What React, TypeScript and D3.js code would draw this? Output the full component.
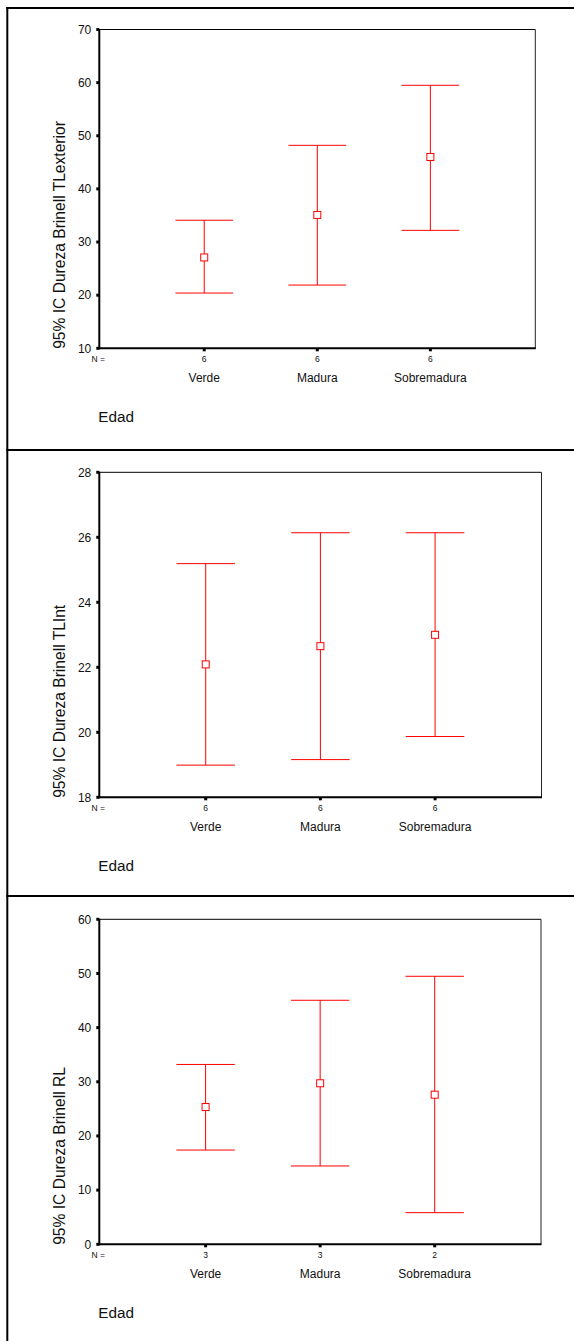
import React from "react";
import * as d3 from "d3";

const categories = ["Verde", "Madura", "Sobremadura"];

// Panel 1: TLexterior
const extMean = [27.1, 35.1, 46.0];
const extLower = [20.4, 21.9, 32.2];
const extUpper = [34.1, 48.2, 59.5];
const extN = [6, 6, 6];
const extTicks = [10, 20, 30, 40, 50, 60, 70];

// Panel 2: TLInt
const intMean = [22.09, 22.65, 23.0];
const intLower = [18.99, 19.16, 19.87];
const intUpper = [25.19, 26.14, 26.14];
const intN = [6, 6, 6];
const intTicks = [18, 20, 22, 24, 26, 28];

// Panel 3: RL
const rlMean = [25.35, 29.73, 27.62];
const rlLower = [17.4, 14.46, 5.84];
const rlUpper = [33.2, 45.05, 49.48];
const rlN = [3, 3, 2];
const rlTicks = [0, 10, 20, 30, 40, 50, 60];

const FONT = "'Liberation Sans', Arial, Helvetica, sans-serif";
const RED = "#ff0000";

type PanelProps = {
  top: number;
  bottom: number;
  left: number;
  right: number;
  ticks: number[];
  mean: number[];
  lower: number[];
  upper: number[];
  n: number[];
  title: string;
};

function Panel({ top, bottom, left, right, ticks, mean, lower, upper, n, title }: PanelProps) {
  const y = d3
    .scaleLinear()
    .domain([ticks[0], ticks[ticks.length - 1]])
    .range([bottom, top]);
  const x = d3.scalePoint<string>().domain(categories).range([left, right]).padding(0.928);
  const capHalf = x.step() * 0.255;
  const sq = 7;
  return (
    <g>
      {/* frame */}
      <line x1={left} x2={right} y1={top} y2={top} stroke="#000" strokeWidth={1} />
      <line x1={right} x2={right} y1={top} y2={bottom} stroke="#222" strokeWidth={1} />
      <line x1={left} x2={left} y1={top - 0.5} y2={bottom + 1} stroke="#000" strokeWidth={2} />
      <line x1={left - 1} x2={right + 0.5} y1={bottom} y2={bottom} stroke="#000" strokeWidth={2} />
      {/* y ticks */}
      {ticks.map((t) => (
        <g key={t}>
          <rect x={left - 3} y={y(t) - 1.5} width={3} height={3} fill="#000" />
          <text
            x={left - 8}
            y={y(t)}
            dy="0.36em"
            textAnchor="end"
            fontSize={12}
            fontFamily={FONT}
            fill="#111"
          >
            {t}
          </text>
        </g>
      ))}
      {/* x ticks, N and category labels */}
      <text x={left - 1} y={bottom + 13.5} textAnchor="middle" fontSize={8.5} fontFamily={FONT} fill="#111">
        N =
      </text>
      {categories.map((c, i) => (
        <g key={c}>
          <rect x={(x(c) as number) - 1.5} y={bottom} width={3} height={3} fill="#000" />
          <text x={x(c)} y={bottom + 13.5} textAnchor="middle" fontSize={8.5} fontFamily={FONT} fill="#111">
            {n[i]}
          </text>
          <text x={x(c)} y={bottom + 34} textAnchor="middle" fontSize={12} fontFamily={FONT} fill="#111">
            {c}
          </text>
        </g>
      ))}
      {/* error bars */}
      {categories.map((c, i) => {
        const cx = x(c) as number;
        return (
          <g key={"eb" + c} stroke={RED} fill="none" strokeWidth={1}>
            <line x1={cx} x2={cx} y1={y(upper[i])} y2={y(lower[i])} />
            <line x1={cx - capHalf} x2={cx + capHalf} y1={y(upper[i])} y2={y(upper[i])} />
            <line x1={cx - capHalf} x2={cx + capHalf} y1={y(lower[i])} y2={y(lower[i])} />
            <rect x={cx - sq / 2} y={y(mean[i]) - sq / 2} width={sq} height={sq} fill="#fff" />
          </g>
        );
      })}
      {/* y axis title */}
      <text
        transform={`translate(64.5, ${bottom + 0.5}) rotate(-90)`}
        textAnchor="start"
        fontSize={15.6}
        fontFamily={FONT}
        fill="#111"
      >
        {title}
      </text>
      <text x={left - 1} y={bottom + 73.8} fontSize={15.3} fontFamily={FONT} fill="#111">
        Edad
      </text>
    </g>
  );
}

export default function App() {
  const W = 574;
  const H = 1341;
  return (
    <svg
      width={W}
      height={H}
      style={{ position: "absolute", left: 0, top: 0, background: "#fff" }}
    >
      <rect x={0} y={0} width={W} height={H} fill="#fff" />
      {/* table borders */}
      <line x1={7.3} x2={7.3} y1={7} y2={H} stroke="#000" strokeWidth={2} />
      <line x1={6.3} x2={W} y1={8} y2={8} stroke="#000" strokeWidth={2} />
      <line x1={6.3} x2={W} y1={450} y2={450} stroke="#000" strokeWidth={2} />
      <line x1={6.3} x2={W} y1={896} y2={896} stroke="#000" strokeWidth={2} />
      <Panel
        top={29.5}
        bottom={348.3}
        left={99.3}
        right={535.3}
        ticks={extTicks}
        mean={extMean}
        lower={extLower}
        upper={extUpper}
        n={extN}
        title="95% IC Dureza Brinell TLexterior"
      />
      <Panel
        top={472.3}
        bottom={797.3}
        left={99.3}
        right={541.5}
        ticks={intTicks}
        mean={intMean}
        lower={intLower}
        upper={intUpper}
        n={intN}
        title="95% IC Dureza Brinell TLInt"
      />
      <Panel
        top={919.3}
        bottom={1244.3}
        left={99.3}
        right={541}
        ticks={rlTicks}
        mean={rlMean}
        lower={rlLower}
        upper={rlUpper}
        n={rlN}
        title="95% IC Dureza Brinell RL"
      />
    </svg>
  );
}
